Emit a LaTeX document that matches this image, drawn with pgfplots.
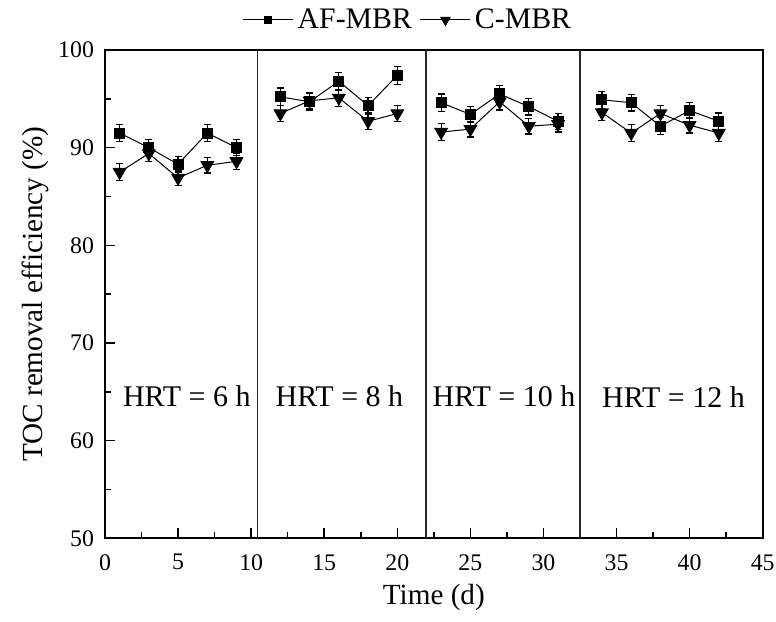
\documentclass[border=0pt]{standalone}
\usepackage{fontspec}
\setmainfont{Liberation Serif}
\usepackage{pgfplots}
\usepackage{pgfplotstable}
\pgfplotsset{compat=1.18}
\pgfplotstableread{
x y e
1 91.5 0.85
3 90.0 0.8
5 88.3 0.8
7 91.5 0.85
9 90.0 0.8
nan nan 0
12 95.2 0.9
14 94.7 0.85
16 96.8 0.9
18 94.3 0.85
20 97.4 0.9
nan nan 0
23 94.6 0.9
25 93.4 0.85
27 95.5 0.9
29 94.2 0.85
31 92.7 0.8
nan nan 0
34 94.9 0.85
36 94.6 0.85
38 92.2 0.85
40 93.8 0.85
42 92.7 0.85
}\af
\pgfplotstableread{
x y e
1 87.5 0.85
3 89.4 0.8
5 86.9 0.8
7 88.2 0.8
9 88.6 0.8
nan nan 0
12 93.5 0.85
14 94.8 0.8
16 95.1 0.85
18 92.7 0.85
20 93.5 0.85
nan nan 0
23 91.6 0.85
25 91.9 0.8
27 94.7 0.85
29 92.2 0.8
31 92.4 0.8
nan nan 0
34 93.6 0.8
36 91.5 0.85
38 93.5 0.85
40 92.3 0.8
42 91.5 0.85
}\cm
\begin{document}
\begin{tikzpicture}
\path[use as bounding box] (-52.5pt,-41.35pt) rectangle (335.5pt,269.15pt);
\begin{axis}[
  scale only axis, width=328.85pt, height=244.15pt,
  at={(0pt,0pt)}, anchor=south west,
  xmin=0, xmax=45, ymin=50, ymax=100,
  xtick={0,5,...,45}, ytick={50,60,...,100},
  minor x tick num=1, minor y tick num=1,
  tick align=inside, tick pos=left,
  major tick length=5pt, minor tick length=3pt,
  tick style={line width=0.8pt, black},
  axis line style={line width=1pt},
  ticklabel style={font=\fontsize{11.9}{14}\selectfont},
  xticklabel style={yshift=-4.5pt},
  yticklabel style={xshift=-2pt},
  /pgf/number format/assume math mode=true,
  xlabel={Time (d)}, ylabel={TOC removal efficiency (\%)},
  label style={font=\fontsize{14.6}{17}\selectfont},
  xlabel style={at={(axis description cs:0.5,-0.121)}, anchor=center},
  ylabel style={at={(axis description cs:-0.1064,0.5)}, anchor=center},
  unbounded coords=jump,
  legend columns=2,
  legend style={at={(axis description cs:0.462,1.0615)}, anchor=center,
    draw=none, fill=none, inner sep=0pt,
    font=\fontsize{14.9}{17}\selectfont,
    /tikz/every even column/.append style={column sep=2pt}},
  legend image code/.code={\draw[mark repeat=2,mark phase=2,#1] plot coordinates {(0pt,0pt) (12.5pt,0pt) (25pt,0pt)};},
]
\addlegendimage{black, line width=0.5pt, mark=square*, mark size=1.8pt}
\addlegendentry{AF-MBR}
\addlegendimage{black, line width=0.5pt, mark=triangle*, mark size=2.7pt, mark options={rotate=180}}
\addlegendentry{C-MBR}
\addplot[forget plot, black, line width=0.5pt, mark=triangle*, mark size=3.6pt, mark options={rotate=180},
  error bars/.cd, y dir=both, y explicit,
  error bar style={line width=0.6pt, black},
  error mark options={rotate=90, mark size=1.75pt, line width=0.6pt, black}]
  table[x=x, y=y, y error=e] {\cm};
\addplot[forget plot, black, line width=0.5pt, mark=square*, mark size=2.5pt,
  error bars/.cd, y dir=both, y explicit,
  error bar style={line width=0.6pt, black},
  error mark options={rotate=90, mark size=1.75pt, line width=0.6pt, black}]
  table[x=x, y=y, y error=e] {\af};
\draw[line width=0.6pt, black!85] (axis cs:10.45,50) -- (axis cs:10.45,100);
\draw[line width=0.6pt, black!85] (axis cs:21.96,50) -- (axis cs:21.96,100);
\draw[line width=0.6pt, black!85] (axis cs:32.5,50) -- (axis cs:32.5,100);
\node[font=\fontsize{15}{18}\selectfont] at (axis cs:5.6,64.5) {HRT = 6 h};
\node[font=\fontsize{15}{18}\selectfont] at (axis cs:16.04,64.5) {HRT = 8 h};
\node[font=\fontsize{15}{18}\selectfont] at (axis cs:27.3,64.5) {HRT = 10 h};
\node[font=\fontsize{15}{18}\selectfont] at (axis cs:38.9,64.5) {HRT = 12 h};
\end{axis}
\end{tikzpicture}
\end{document}
